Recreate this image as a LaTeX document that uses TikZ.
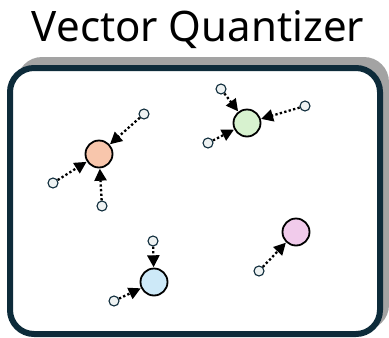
\documentclass[tikz,border=0pt]{standalone}
\usepackage{fontspec}
\setmainfont{Noto Sans}
\usetikzlibrary{arrows.meta}
\definecolor{frame}{HTML}{0D2B3A}
\definecolor{corange}{HTML}{F8C6AC}
\definecolor{cgreen}{HTML}{D7F2CF}
\definecolor{cblue}{HTML}{CDE9F8}
\definecolor{cpink}{HTML}{F1CBEB}
\definecolor{pt}{HTML}{EEF2F2}
\tikzset{
  bigc/.style={circle, draw=black, line width=1.8pt, minimum size=27pt, inner sep=0pt},
  smallc/.style={circle, draw=frame, line width=1.1pt, fill=pt, minimum size=10pt, inner sep=0pt},
  vq/.style={line width=2.3pt, dash pattern=on 2.3pt off 2.3pt, -{Triangle[length=12pt,width=12pt]}, shorten >=0.3pt}
}
\begin{document}
\begin{tikzpicture}[x=1pt,y=-1pt]
\useasboundingbox (0,0) rectangle (389,338);
% shadow
\fill[gray!72, rounded corners=25pt] (17,57) rectangle (389,330);
% frame
\draw[frame, line width=6pt, fill=white, rounded corners=24pt] (10,68) rectangle (380,334);
% title
\node (title) at (198,30) {\fontsize{42}{48}\selectfont Vector Quantizer};
% big circles
\node[bigc, fill=corange] (o) at (99,154) {};
\node[bigc, fill=cgreen] (g) at (247,123) {};
\node[bigc, fill=cblue] (b) at (154,282) {};
\node[bigc, fill=cpink] (p) at (296,232) {};
% small circles
\node[smallc] (o1) at (144,114) {};
\node[smallc] (o2) at (53,183) {};
\node[smallc] (o3) at (102,206) {};
\node[smallc] (g1) at (221,89) {};
\node[smallc] (g2) at (305,106) {};
\node[smallc] (g3) at (208,143) {};
\node[smallc] (b1) at (153,241) {};
\node[smallc] (b2) at (114,301) {};
\node[smallc] (p1) at (259,271) {};
% arrows
\draw[vq] (o1) -- (o);
\draw[vq] (o2) -- (o);
\draw[vq] (o3) -- (o);
\draw[vq] (g1) -- (g);
\draw[vq] (g2) -- (g);
\draw[vq] (g3) -- (g);
\draw[vq] (b1) -- (b);
\draw[vq] (b2) -- (b);
\draw[vq] (p1) -- (p);
\end{tikzpicture}
\end{document}
